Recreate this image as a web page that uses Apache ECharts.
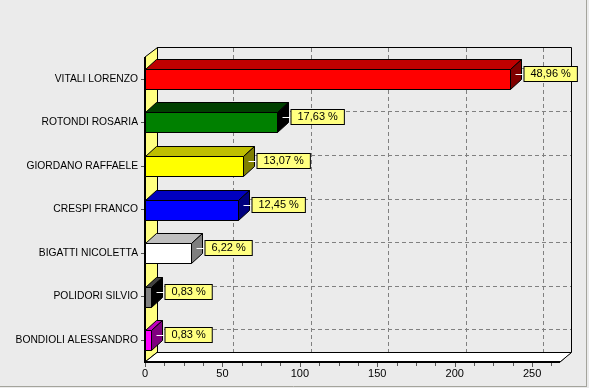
<!DOCTYPE html>
<html>
<head>
<meta charset="utf-8">
<script src="https://cdn.jsdelivr.net/npm/echarts@6/dist/echarts.min.js"></script>
<style>
html,body{margin:0;padding:0;background:#EBEBEB;}
#c{width:589px;height:388px;}
</style>
</head>
<body>
<div id="c"></div>
<script>
var categories = ['VITALI LORENZO','ROTONDI ROSARIA','GIORDANO RAFFAELE','CRESPI FRANCO','BIGATTI NICOLETTA','POLIDORI SILVIO','BONDIOLI ALESSANDRO'];
var votes = [236, 85, 63, 60, 30, 4, 4];
var percentLabels = ['48,96 %','17,63 %','13,07 %','12,45 %','6,22 %','0,83 %','0,83 %'];
var barColors = [[255,0,0],[0,128,0],[255,255,0],[0,0,255],[255,255,255],[128,128,128],[255,0,255]];
var xTicks = [0, 50, 100, 150, 200, 250];
var xMax = 268;

var DX = 11, DY = 10, WDX = 12;
var FONT = '11px "Liberation Sans", Arial, sans-serif';

function rgb(c, d) {
  return 'rgb(' + c.map(function (v) { return Math.max(0, v - d); }).join(',') + ')';
}

var chart = echarts.init(document.getElementById('c'), null, {renderer: 'canvas'});

function renderDecor(params, api) {
  var cs = params.coordSys;
  var x0 = cs.x, y0 = cs.y, x1 = cs.x + cs.width, y1 = cs.y + cs.height;
  var ch = [];
  var grey = '#808080';
  ch.push({type: 'polyline', shape: {points: [[x0 + WDX, y0 - DY + 0.5], [x1 + WDX - 0.5, y0 - DY + 0.5], [x1 + WDX - 0.5, y1 - DY], [x1, y1]]},
    style: {stroke: '#000', lineWidth: 1, fill: null}});
  xTicks.forEach(function (v) {
    if (v === 0) return;
    var x = Math.round(api.coord([v, 0])[0]) + DX + 0.5;
    ch.push({type: 'line', shape: {x1: x, y1: y0 - DY + 1, x2: x, y2: y1 - DY},
      style: {stroke: grey, lineWidth: 1, lineDash: [4, 3]}});
    ch.push({type: 'line', shape: {x1: x - 6, y1: y1 - 4.5, x2: x - 4, y2: y1 - 6.5},
      style: {stroke: '#aaa', lineWidth: 1}});
  });
  categories.forEach(function (c, i) {
    var y = Math.round(api.coord([0, i])[1]) - DY - 0.5;
    ch.push({type: 'line', shape: {x1: x0 + WDX, y1: y, x2: x1 + WDX - 1, y2: y},
      style: {stroke: grey, lineWidth: 1, lineDash: [4, 3]}});
  });
  ch.push({type: 'polygon', shape: {points: [[x0, y0], [x0 + WDX + 0.5, y0 - DY + 0.5], [x0 + WDX + 0.5, y1 - DY], [x0, y1]]},
    style: {fill: '#FFFF80', stroke: '#000', lineWidth: 1}});
  ch.push({type: 'polygon', shape: {points: [[x0, y1], [x0 + WDX, y1 - DY + 0.5], [x1 + WDX - 0.5, y1 - DY + 0.5], [x1, y1]]},
    style: {fill: '#FFFFFF', stroke: '#000', lineWidth: 1}});
  ch.push({type: 'line', shape: {x1: x0, y1: y0, x2: x0, y2: y1 + 1},
    style: {stroke: '#000', lineWidth: 2}});
  ch.push({type: 'line', shape: {x1: x0 - 1, y1: y1, x2: x1, y2: y1},
    style: {stroke: '#000', lineWidth: 2}});
  for (var v = 0; v < xMax; v += 12.5) {
    var major = (v % 50 === 0);
    var x = Math.round(api.coord([v, 0])[0]) + 0.5;
    ch.push({type: 'line', shape: {x1: x, y1: y1 + 1, x2: x, y2: y1 + (major ? 5 : 4)},
      style: {stroke: '#555', lineWidth: 1}});
  }
  return {type: 'group', children: ch};
}

function renderBar(params, api) {
  var i = api.value(1);
  var v = api.value(0);
  var p0 = api.coord([0, i]);
  var p1 = api.coord([v, i]);
  var l = Math.round(p0[0]) + 0.5;
  var r = Math.round(p1[0]) + 0.5;
  var cy = Math.round(p0[1]);
  var top = cy - 10 + 0.5, bot = cy + 10 + 0.5;
  var c = barColors[i];
  var ch = [];
  ch.push({type: 'polygon', shape: {points: [[l, top], [l + DX, top - DY], [r + DX, top - DY], [r, top]]},
    style: {fill: rgb(c, 64), stroke: '#000', lineWidth: 1}});
  ch.push({type: 'polygon', shape: {points: [[r, top], [r + DX, top - DY], [r + DX, bot - DY], [r, bot]]},
    style: {fill: rgb(c, 128), stroke: '#000', lineWidth: 1}});
  ch.push({type: 'rect', shape: {x: l, y: top, width: r - l, height: bot - top},
    style: {fill: rgb(c, 0), stroke: '#000', lineWidth: 1}});
  var ly = cy - 5 + 0.5;
  ch.push({type: 'line', shape: {x1: r + 5, y1: ly, x2: r + DX + 3, y2: ly},
    style: {stroke: '#FFFFFF', lineWidth: 1}});
  ch.push({type: 'text', style: {
    text: percentLabels[i], x: r + DX + 3, y: cy - 5,
    font: FONT, fill: '#000', align: 'left', verticalAlign: 'middle',
    backgroundColor: '#FFFF80', borderColor: '#000', borderWidth: 1,
    padding: [2, 6, 1, 6]
  }});
  return {type: 'group', children: ch};
}

var option = {
  backgroundColor: '#EBEBEB',
  animation: false,
  grid: {left: 145, top: 57, width: 415, height: 305, containLabel: false},
  xAxis: {
    type: 'value', min: 0, max: xMax, interval: 50,
    axisLine: {show: false}, axisTick: {show: false}, splitLine: {show: false},
    axisLabel: {
      showMaxLabel: false, margin: 6, color: '#000',
      fontFamily: '"Liberation Sans", Arial, sans-serif', fontSize: 11
    }
  },
  yAxis: {
    type: 'category', inverse: true, data: categories,
    axisLine: {show: false},
    axisTick: {show: true, alignWithLabel: true, length: 4, lineStyle: {color: '#555'}},
    splitLine: {show: false},
    axisLabel: {margin: 7, color: '#000', fontFamily: '"Liberation Sans", Arial, sans-serif', fontSize: 10.3}
  },
  series: [
    {type: 'custom', z: 1, renderItem: renderDecor, data: [[0, 0]], encode: {x: 0, y: 1}, silent: true, clip: false},
    {type: 'custom', z: 2, renderItem: renderBar, data: votes.map(function (v, i) { return [v, i]; }), encode: {x: 0, y: 1}, clip: false}
  ],
  graphic: [
    {type: 'line', shape: {x1: 586.5, y1: 0, x2: 586.5, y2: 387}, style: {stroke: '#A4A49C', lineWidth: 1}},
    {type: 'line', shape: {x1: 0, y1: 386.5, x2: 587, y2: 386.5}, style: {stroke: '#A4A49C', lineWidth: 1}}
  ]
};
chart.setOption(option);
</script>
</body>
</html>
